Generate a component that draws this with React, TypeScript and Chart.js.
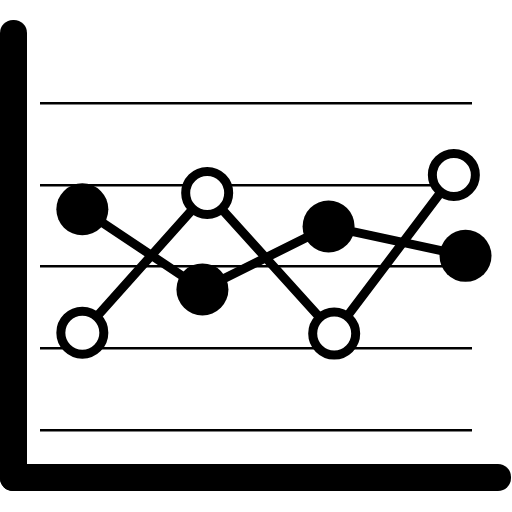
import React, { useEffect, useRef } from "react";
import { Chart, registerables } from "chart.js";

Chart.register(...registerables);

const filledX = [0.98, 3.76, 6.68, 9.85];
const filledY = [2.7, 1.72, 2.49, 2.13];
const hollowX = [0.98, 3.87, 6.81, 9.58];
const hollowY = [1.19, 2.9, 1.18, 3.12];
const gridTicks = [0, 1, 2, 3, 4];

const axesPlugin = {
  id: "lAxes",
  beforeDatasetsDraw(chart: any) {
    const { ctx, chartArea } = chart;
    const left = chartArea.left - 40;
    const thick = 27;
    const bottom = chartArea.bottom + 61;
    ctx.save();
    ctx.fillStyle = "#000";
    ctx.beginPath();
    ctx.roundRect(left, 20, thick, bottom - 20, 13);
    ctx.fill();
    ctx.beginPath();
    ctx.roundRect(left, bottom - thick, chartArea.right + 39 - left, thick, 13);
    ctx.fill();
    ctx.restore();
  },
};

export default function App() {
  const ref = useRef<HTMLCanvasElement>(null);
  useEffect(() => {
    if (!ref.current) return;
    const chart = new Chart(ref.current, {
      type: "line",
      data: {
        datasets: [
          {
            data: filledX.map((x, i) => ({ x, y: filledY[i] })),
            borderColor: "#000",
            backgroundColor: "#000",
            borderWidth: 9,
            pointRadius: 26,
            pointBorderWidth: 0,
            pointBackgroundColor: "#000",
            clip: false as any,
          },
          {
            data: hollowX.map((x, i) => ({ x, y: hollowY[i] })),
            borderColor: "#000",
            backgroundColor: "#fff",
            borderWidth: 9,
            pointRadius: 21.5,
            pointBorderWidth: 9,
            pointBackgroundColor: "#fff",
            pointBorderColor: "#000",
            clip: false as any,
          },
        ],
      },
      options: {
        animation: false,
        responsive: false,
        devicePixelRatio: 1,
        layout: { padding: { left: 40, right: 40, top: 103, bottom: 82 } },
        plugins: { legend: { display: false }, tooltip: { enabled: false } },
        events: [],
        scales: {
          x: { type: "linear", min: 0, max: 10, display: false },
          y: {
            type: "linear",
            min: 0,
            max: 4,
            afterBuildTicks: (s: any) => {
              s.ticks = gridTicks.map((v) => ({ value: v }));
            },
            ticks: { display: false },
            border: { display: false },
            grid: { color: "#000", lineWidth: 2.5, drawTicks: false },
          },
        },
      },
      plugins: [axesPlugin],
    });
    return () => chart.destroy();
  }, []);
  return (
    <div style={{ position: "absolute", left: 0, top: 0, width: 512, height: 512, background: "#fff" }}>
      <canvas ref={ref} width={512} height={512} />
    </div>
  );
}
